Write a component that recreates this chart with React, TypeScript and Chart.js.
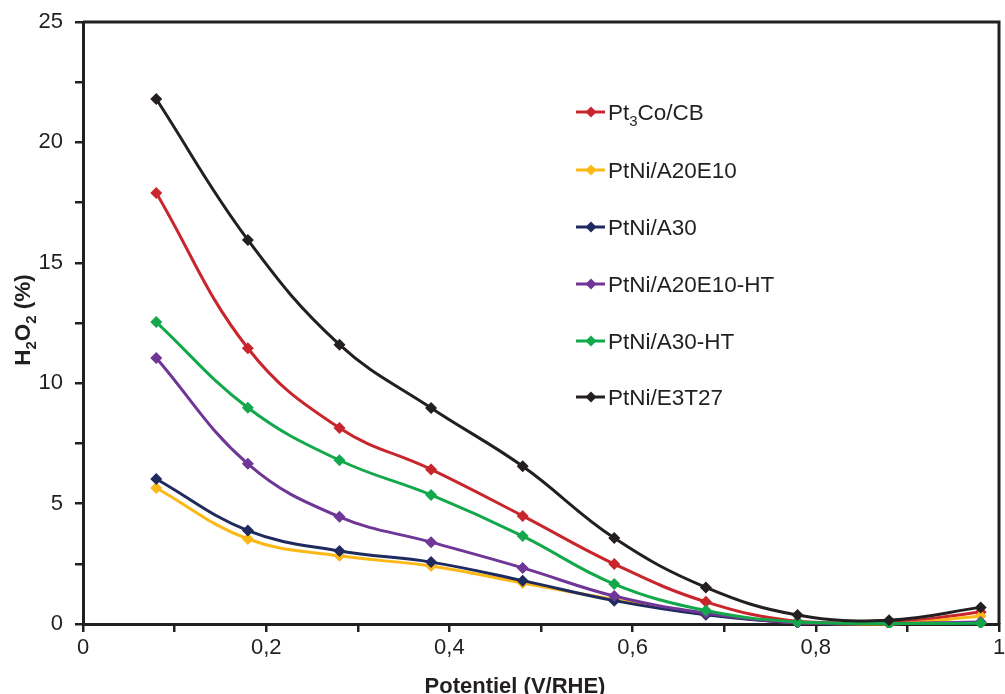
import React, { useEffect, useRef } from "react";
import { Chart, registerables } from "chart.js";

Chart.register(...registerables);

const potentials = [0.08, 0.18, 0.28, 0.38, 0.48, 0.58, 0.68, 0.78, 0.88, 0.98];
const pt3coCB = [17.9, 11.45, 8.14, 6.42, 4.49, 2.49, 0.92, 0.1, 0.05, 0.5];
const ptniA20E10 = [5.65, 3.53, 2.83, 2.41, 1.7, 1.02, 0.4, 0.05, 0.0, 0.33];
const ptniA30 = [6.02, 3.88, 3.03, 2.57, 1.8, 0.97, 0.38, 0.05, 0.02, 0.05];
const ptniA20E10HT = [11.05, 6.65, 4.45, 3.4, 2.33, 1.16, 0.45, 0.05, 0.02, 0.08];
const ptniA30HT = [12.54, 8.98, 6.8, 5.36, 3.65, 1.66, 0.56, 0.08, 0.02, 0.03];
const ptniE3T27 = [21.8, 15.95, 11.6, 8.97, 6.55, 3.57, 1.52, 0.37, 0.16, 0.69];

const seriesNames = ["Pt_3Co/CB", "PtNi/A20E10", "PtNi/A30", "PtNi/A20E10-HT", "PtNi/A30-HT", "PtNi/E3T27"];
const seriesValues = [pt3coCB, ptniA20E10, ptniA30, ptniA20E10HT, ptniA30HT, ptniE3T27];
const seriesColors = ["#c8262c", "#fbb817", "#1f2a5e", "#6f3597", "#13a84b", "#231f20"];

const xTickLabels = ["0", "0,2", "0,4", "0,6", "0,8", "1"];
const yTickLabels = ["0", "5", "10", "15", "20", "25"];
const xTitle = "Potentiel (V/RHE)";
const yTitle = "H_2O_2 (%)";

const INK = "#231f20";
const FONT = "Liberation Sans, Arial, sans-serif";

function drawRich(ctx: CanvasRenderingContext2D, text: string, x: number, y: number, size: number, bold: boolean, align: "left" | "center") {
  // '_' marks next char as subscript
  const parts: { t: string; sub: boolean }[] = [];
  for (let i = 0; i < text.length; i++) {
    if (text[i] === "_" && i + 1 < text.length) {
      parts.push({ t: text[i + 1], sub: true });
      i++;
    } else {
      const last = parts[parts.length - 1];
      if (last && !last.sub) last.t += text[i];
      else parts.push({ t: text[i], sub: false });
    }
  }
  const w = bold ? "bold " : "";
  const subSize = Math.round(size * 0.68);
  let total = 0;
  for (const p of parts) {
    ctx.font = `${w}${p.sub ? subSize : size}px ${FONT}`;
    total += ctx.measureText(p.t).width;
  }
  let cx = align === "center" ? x - total / 2 : x;
  ctx.textAlign = "left";
  ctx.textBaseline = "alphabetic";
  for (const p of parts) {
    ctx.font = `${w}${p.sub ? subSize : size}px ${FONT}`;
    ctx.fillText(p.t, cx, p.sub ? y + size * 0.25 : y);
    cx += ctx.measureText(p.t).width;
  }
}

const decorPlugin = {
  id: "decor",
  afterDraw(chart: any) {
    const ctx = chart.ctx as CanvasRenderingContext2D;
    const area = chart.chartArea;
    ctx.save();
    // frame
    ctx.strokeStyle = INK;
    ctx.lineWidth = 3;
    ctx.beginPath();
    ctx.moveTo(area.left, area.top);
    ctx.lineTo(area.right, area.top);
    ctx.lineTo(area.right, area.bottom);
    ctx.stroke();
    // legend
    const rowY = [112, 170, 227, 284, 341, 397];
    seriesNames.forEach((name, i) => {
      const y = rowY[i];
      ctx.strokeStyle = seriesColors[i];
      ctx.lineWidth = 3;
      ctx.beginPath();
      ctx.moveTo(576, y);
      ctx.lineTo(605, y);
      ctx.stroke();
      ctx.fillStyle = seriesColors[i];
      ctx.beginPath();
      ctx.moveTo(591, y - 5.5);
      ctx.lineTo(596.5, y);
      ctx.lineTo(591, y + 5.5);
      ctx.lineTo(585.5, y);
      ctx.closePath();
      ctx.fill();
      ctx.fillStyle = INK;
      drawRich(ctx, name, 608, y + 8, 22.5, false, "left");
    });
    // x title
    ctx.fillStyle = INK;
    drawRich(ctx, xTitle, 515, 693, 22, true, "center");
    // y title
    ctx.translate(30, 320);
    ctx.rotate(-Math.PI / 2);
    drawRich(ctx, yTitle, 0, 0, 22.5, true, "center");
    ctx.restore();
  },
};

export default function App() {
  const ref = useRef<HTMLCanvasElement | null>(null);
  useEffect(() => {
    document.body.style.margin = "0";
    const canvas = ref.current;
    if (!canvas) return;
    const datasets = seriesNames.map((name, i) => ({
      label: name,
      data: potentials.map((x, j) => ({ x, y: seriesValues[i][j] })),
      borderColor: seriesColors[i],
      backgroundColor: seriesColors[i],
      borderWidth: 3,
      pointStyle: "rectRot" as const,
      pointRadius: 6,
      pointBorderWidth: 0,
      tension: 0.4,
      order: seriesNames.length - i,
      clip: 4,
    }));
    const chart = new Chart(canvas, {
      type: "line",
      data: { datasets },
      plugins: [decorPlugin],
      options: {
        responsive: false,
        animation: false,
        devicePixelRatio: 1,
        layout: { padding: { top: 22, right: 2, left: 0, bottom: 0 } },
        plugins: { legend: { display: false }, tooltip: { enabled: false } },
        scales: {
          x: {
            type: "linear",
            min: 0,
            max: 1,
            ticks: {
              stepSize: 0.1,
              autoSkip: false,
              maxRotation: 0,
              padding: 3,
              color: INK,
              font: { family: FONT, size: 22 },
              callback: (_v: any, idx: number) => (idx % 2 === 0 ? xTickLabels[idx / 2] : ""),
            },
            grid: { drawOnChartArea: false, drawTicks: true, tickLength: 8, color: INK, lineWidth: 2.5 },
            border: { display: true, color: INK, width: 3 },
            afterFit: (s: any) => {
              s.height = 70;
              s.paddingLeft = 0;
              s.paddingRight = 0;
            },
          },
          y: {
            type: "linear",
            min: 0,
            max: 25,
            ticks: {
              stepSize: 2.5,
              autoSkip: false,
              padding: 12,
              color: INK,
              font: { family: FONT, size: 22 },
              callback: (_v: any, idx: number) => (idx % 2 === 0 ? yTickLabels[idx / 2] : ""),
            },
            grid: { drawOnChartArea: false, drawTicks: true, tickLength: 8, color: INK, lineWidth: 2.5 },
            border: { display: true, color: INK, width: 3 },
            afterFit: (s: any) => {
              s.width = 83;
              s.paddingTop = 0;
              s.paddingBottom = 0;
            },
          },
        },
      },
    });
    return () => chart.destroy();
  }, []);
  return (
    <div style={{ position: "fixed", left: 0, top: 0, width: 1005, height: 694, background: "#fff" }}>
      <canvas ref={ref} width={1005} height={694} style={{ display: "block" }} />
    </div>
  );
}
